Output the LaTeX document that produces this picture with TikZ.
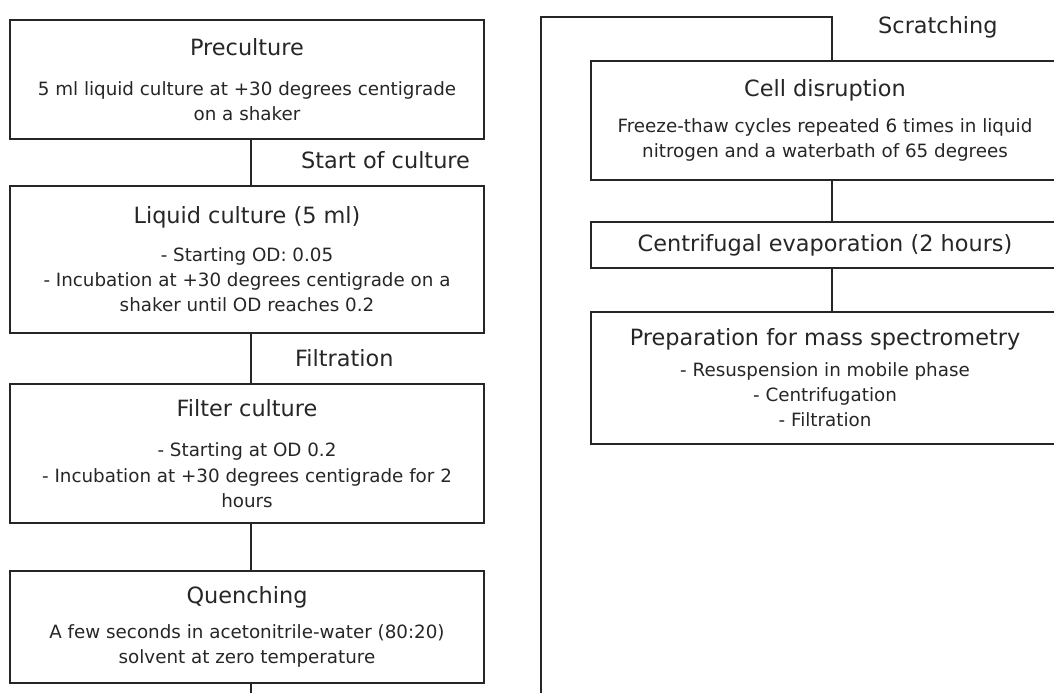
\documentclass[tikz,border=0pt]{standalone}
\usepackage{fontspec}
\setmainfont{DejaVu Sans}
\usepackage{xcolor}
\usetikzlibrary{positioning}
\definecolor{inkgray}{RGB}{38,38,38}
\newcommand{\steptitle}[1]{{\fontsize{22.4}{27}\selectfont #1}}

\begin{document}
\begin{tikzpicture}[x=1pt, y=1pt, node distance=47pt, every node/.style={font=\fontsize{18.3}{25.3}\selectfont, text=inkgray}]
\tikzstyle{stepbox}=[draw=inkgray, line width=1.4pt, align=center, inner sep=0pt, outer sep=0pt, minimum width=474pt]
\tikzstyle{link}=[draw=inkgray, line width=1.2pt]
\tikzstyle{steplabel}=[font=\fontsize{22.4}{27}\selectfont, anchor=base west, inner sep=0pt]
\useasboundingbox (0,0) rectangle (1054,-693);
\clip (0,0) rectangle (1054,-693);

% left column
\node[stepbox, anchor=north, minimum height=119pt] (pre) at (247,-20) {\steptitle{Preculture}\\[15pt]5 ml liquid culture at +30 degrees centigrade\\on a shaker};
\node[stepbox, below=47pt of pre, minimum height=147pt] (liq) {\steptitle{Liquid culture (5 ml)}\\[12pt]- Starting OD: 0.05\\- Incubation at +30 degrees centigrade on a\\shaker until OD reaches 0.2};
\node[stepbox, below=51pt of liq, minimum height=139pt] (fil) {\steptitle{Filter culture}\\[15pt]- Starting at OD 0.2\\- Incubation at +30 degrees centigrade for 2\\hours};
\node[stepbox, below=48pt of fil, minimum height=112pt] (que) {\steptitle{Quenching}\\[10pt]A few seconds in acetonitrile-water (80:20)\\solvent at zero temperature};

% right column
\node[stepbox, anchor=north, minimum width=468pt, minimum height=119pt] (cell) at (825,-61) {\steptitle{Cell disruption}\\[11pt]Freeze-thaw cycles repeated 6 times in liquid\\nitrogen and a waterbath of 65 degrees};
\node[stepbox, below=42pt of cell, minimum width=468pt, minimum height=46pt] (cen) {\steptitle{Centrifugal evaporation (2 hours)}};
\node[stepbox, below=44pt of cen, minimum width=468pt, minimum height=132pt] (prep) {\steptitle{Preparation for mass spectrometry}\\[5pt]- Resuspension in mobile phase\\- Centrifugation\\- Filtration};

% step labels
\node[steplabel] (lstart) at (301,-168.7) {Start of culture};
\node[steplabel] (lfilt) at (295,-366) {Filtration};
\node[steplabel] (lscratch) at (878,-34) {Scratching};

% connectors
\coordinate (lspine) at (251,-693);
\coordinate (rin) at (541,-693);
\coordinate (ctop) at (832,-17);
\draw[link] (pre.south -| lspine) -- (liq.north -| lspine);
\draw[link] (liq.south -| lspine) -- (fil.north -| lspine);
\draw[link] (fil.south -| lspine) -- (que.north -| lspine);
\draw[link] (que.south -| lspine) -- (lspine);
\draw[link] (rin) |- (ctop) -- (cell.north -| ctop);
\draw[link] (cell.south -| ctop) -- (cen.north -| ctop);
\draw[link] (cen.south -| ctop) -- (prep.north -| ctop);
\end{tikzpicture}
\end{document}
